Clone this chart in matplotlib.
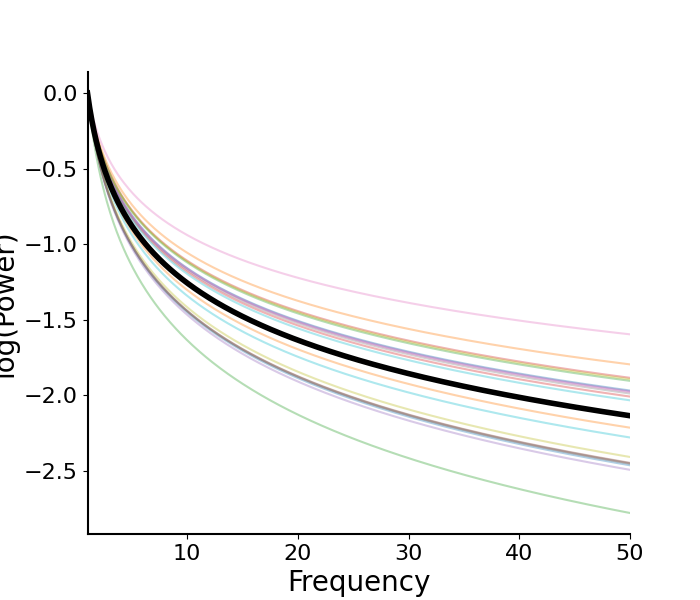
import numpy as np
import matplotlib
matplotlib.use("Agg")
import matplotlib.pyplot as plt

# log-power of each simulated spectrum at 50 Hz (all curves are 0 at 1 Hz)
end_values = [-2.465, -1.797, -2.781, -1.886, -2.495, -2.449, -1.598, -1.99,
              -2.41, -2.281, -1.97, -2.216, -1.906, -2.01, -1.975, -2.452,
              -1.98, -2.455, -1.895, -2.035]
mean_end_value = -2.137
freq_range = [1, 50]

freqs = np.linspace(freq_range[0], freq_range[1], 500)
log_f = np.log10(freqs) / np.log10(freq_range[1])

fig, ax = plt.subplots(figsize=(7, 6), dpi=100)
colors = plt.rcParams["axes.prop_cycle"].by_key()["color"]

for i, val in enumerate(end_values):
    ax.plot(freqs, val * log_f, color=colors[i % len(colors)], alpha=0.35, lw=1.5)
ax.plot(freqs, mean_end_value * log_f, color="black", lw=4)

ax.set_xlim(freq_range)
ax.set_xlabel("Frequency", fontsize=20)
ax.set_ylabel("log(Power)", fontsize=20)
ax.tick_params(labelsize=16)
ax.spines["top"].set_visible(False)
ax.spines["right"].set_visible(False)
ax.spines["left"].set_linewidth(1.5)
ax.spines["bottom"].set_linewidth(1.5)

plt.savefig("out.png", dpi=100)
